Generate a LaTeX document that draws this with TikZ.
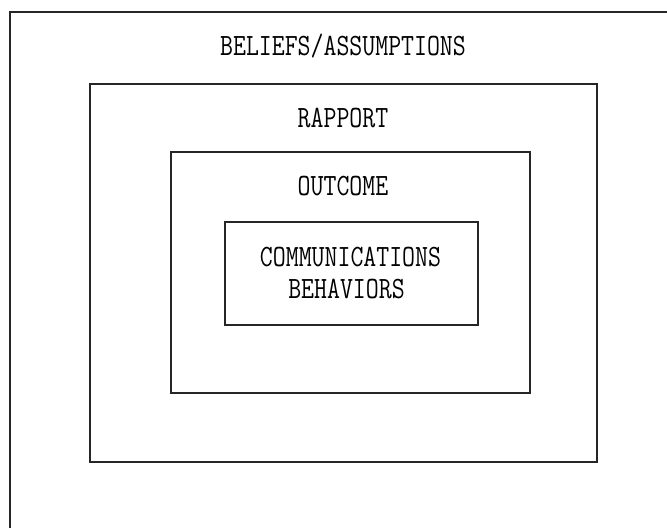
\documentclass[tikz,border=0pt]{standalone}
\usepackage{fontspec}
\newfontfamily\labelfont{Latin Modern Mono}[FakeStretch=0.81]
\begin{document}
\begin{tikzpicture}[x=1pt,y=-1pt,
  panel/.style={draw=black!85, line width=1.3pt, fill=none, inner sep=0pt},
  caption/.style={anchor=base, inner sep=0pt, font=\labelfont\fontsize{31}{34}\selectfont}]
  \useasboundingbox (0,0) rectangle (667,528);
  % outer frame, open at right and bottom
  \coordinate (fbl) at (10,528);
  \coordinate (ftl) at (10,12);
  \coordinate (ftr) at (667,12);
  \draw[black!85, line width=1.4pt] (fbl) -- (ftl) -- (ftr);
  % nested panels
  \node[panel, minimum width=507pt, minimum height=378pt] (rapport) at (343.5,273) {};
  \node[panel, minimum width=359pt, minimum height=241pt] (outcome) at (350.5,272.5) {};
  \node[panel, minimum width=253pt, minimum height=103pt] (comm) at (351.5,273.5) {};
  % labels
  \node[caption] (tbel) at (343,55) {BELIEFS/ASSUMPTIONS};
  \node[caption] (trap) at (343,127) {RAPPORT};
  \node[caption] (tout) at (343,195) {OUTCOME};
  \node[caption] (tcom) at (350.5,266) {COMMUNICATIONS};
  \node[caption] (tbeh) at (346.5,298) {BEHAVIORS};
\end{tikzpicture}
\end{document}
